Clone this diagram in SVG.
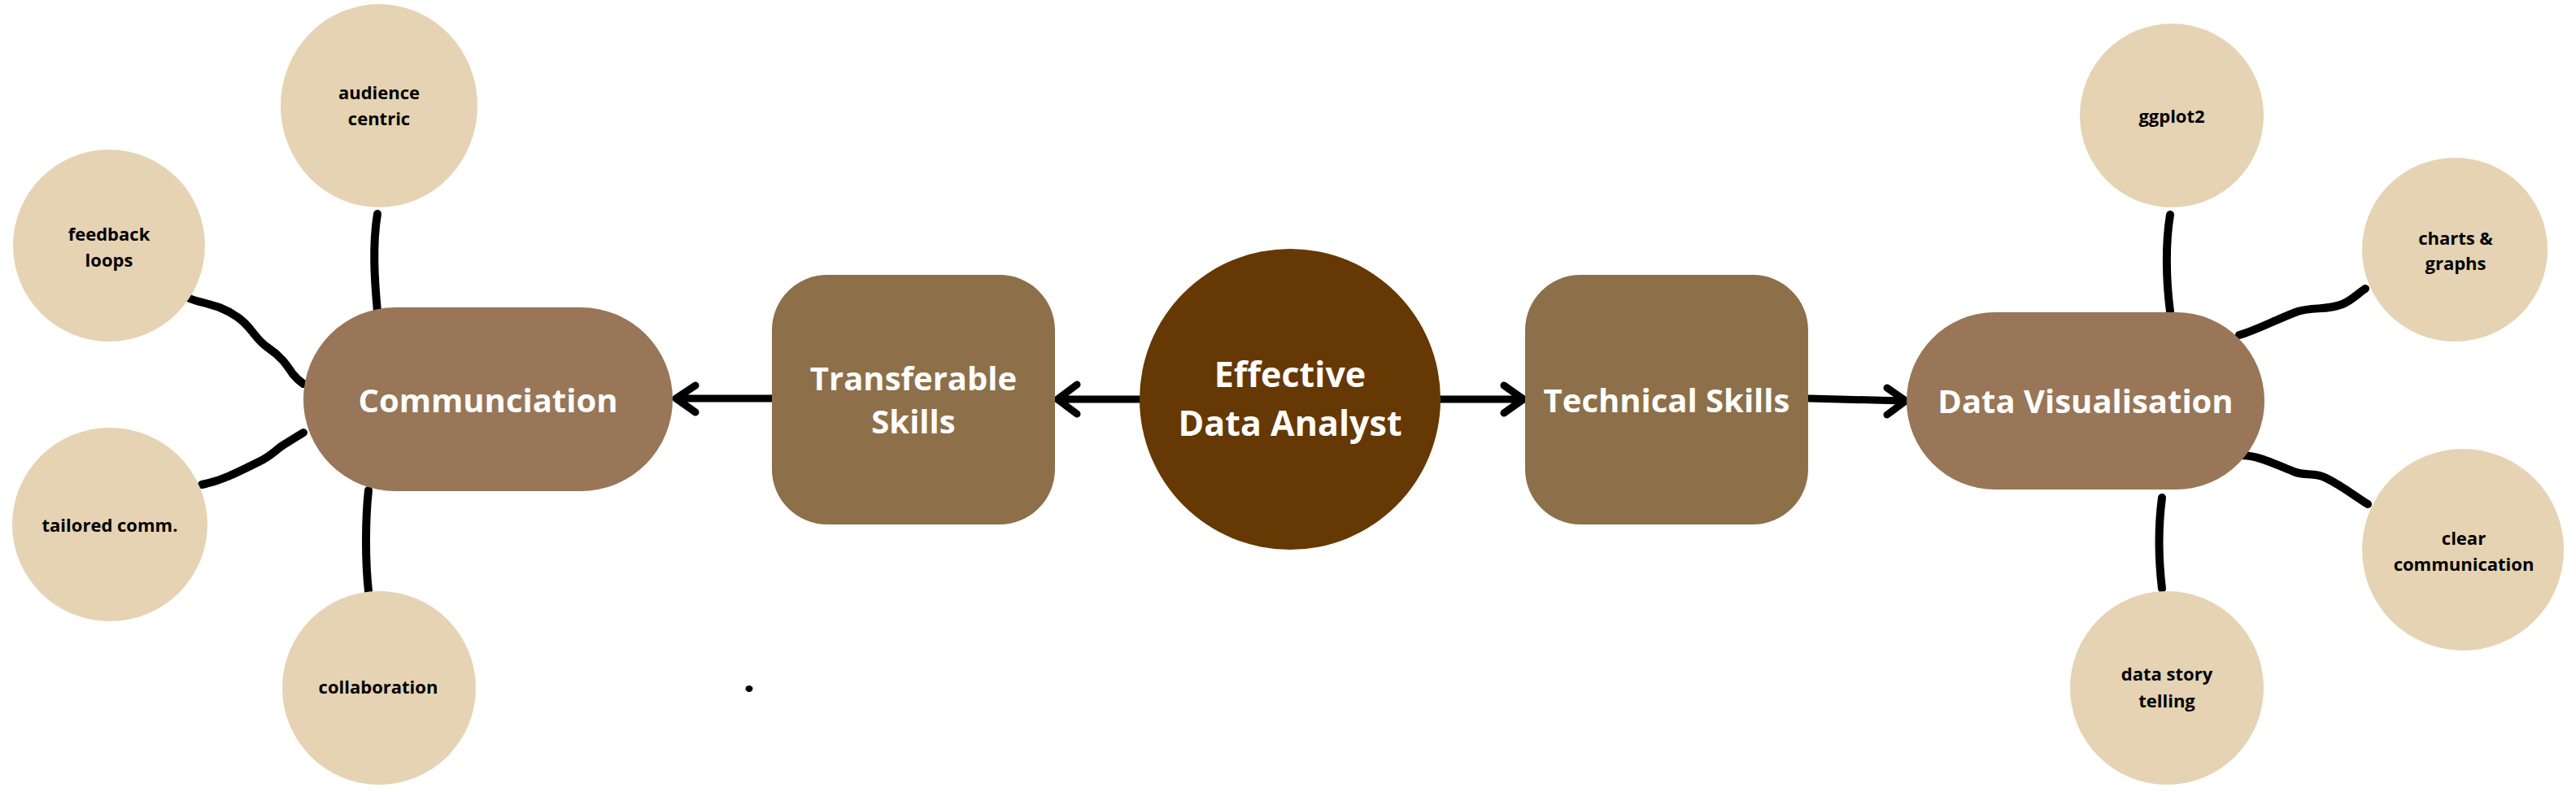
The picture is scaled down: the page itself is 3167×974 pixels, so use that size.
<svg xmlns="http://www.w3.org/2000/svg" width="3167" height="974" viewBox="0 0 3167 974">
<style>
.leaf{fill:#E5D3B3}
.pill{fill:#987657}
.box{fill:#8D7049}
.core{fill:#663804}
.lbl{font-family:"Open Sans","Liberation Sans",sans-serif;font-weight:700;font-size:22px;fill:#000;text-anchor:middle}
.big{font-family:"Open Sans","Liberation Sans",sans-serif;font-weight:700;font-size:40px;fill:#fff;text-anchor:middle}
.ln{fill:none;stroke:#000;stroke-width:10;stroke-linecap:round;stroke-linejoin:round}
.ar{fill:none;stroke:#000;stroke-width:9;stroke-linecap:round;stroke-linejoin:round}
</style>
<rect width="3167" height="974" fill="#fff"/>
<g id="connectors">
<path class="ln" d="M464,263 C458,300 460,340 464,383"/>
<path class="ln" d="M453,603 C449,640 449,690 453,727"/>
<path class="ln" d="M233,367 C250,374 270,374 292,390 C310,402 312,416 330,428 C345,438 352,448 360,460 C365,466 370,470 373,472"/>
<path class="ln" d="M248,596 C270,592 290,582 318,568 C335,560 342,550 352,545 C360,540 368,535 373,532"/>
<path class="ln" d="M2668,264 C2662,300 2663,345 2668,383"/>
<path class="ln" d="M2658,612 C2653,650 2654,690 2658,724"/>
<path class="ln" d="M2753,412 C2775,406 2800,392 2825,383 C2845,377 2860,382 2880,374 C2892,369 2900,360 2908,355"/>
<path class="ln" d="M2756,560 C2775,560 2795,570 2820,580 C2835,586 2845,580 2860,588 C2880,598 2895,610 2911,620"/>
<path class="ar" d="M949,490 L833,490 M855,474 L831,490 L855,507"/>
<path class="ar" d="M1400,491 L1303,491 M1324,473 L1300,491 L1324,509"/>
<path class="ar" d="M1771,491 L1870,491 M1849,474 L1873,491 L1849,508"/>
<path class="ar" d="M2224,490 L2340,493 M2320,477 L2343,493 L2320,510"/>
</g>
<g id="n-center"><circle class="core" cx="1586" cy="491" r="185"/><text class="big" style="font-size:43px" x="1586" y="476">Effective</text><text class="big" style="font-size:43px" x="1586" y="536">Data Analyst</text></g>
<g id="n-transferable"><rect class="box" x="949" y="338" width="348" height="307" rx="68"/><text class="big" x="1123" y="480">Transferable</text><text class="big" x="1123" y="533">Skills</text></g>
<g id="n-technical"><rect class="box" x="1875" y="338" width="348" height="307" rx="68"/><text class="big" x="2049" y="507">Technical Skills</text></g>
<g id="n-comm"><rect class="pill" x="373" y="378" width="454" height="226" rx="113"/><text class="big" x="600" y="507">Communciation</text></g>
<g id="n-dataviz"><rect class="pill" x="2344" y="384" width="440" height="218" rx="109"/><text class="big" x="2564" y="508">Data Visualisation</text></g>
<g id="n-audience"><ellipse class="leaf" cx="466" cy="130" rx="121" ry="125"/><text class="lbl" x="466" y="122">audience</text><text class="lbl" x="466" y="154">centric</text></g>
<g id="n-feedback"><ellipse class="leaf" cx="134" cy="302" rx="118" ry="118"/><text class="lbl" x="134" y="296">feedback</text><text class="lbl" x="134" y="328">loops</text></g>
<g id="n-tailored"><ellipse class="leaf" cx="135" cy="645" rx="120" ry="119"/><text class="lbl" x="135" y="654">tailored comm.</text></g>
<g id="n-collab"><ellipse class="leaf" cx="466" cy="846" rx="119" ry="119"/><text class="lbl" x="465" y="853">collaboration</text></g>
<g id="n-ggplot"><ellipse class="leaf" cx="2670" cy="142" rx="113" ry="113"/><text class="lbl" x="2670" y="151">ggplot2</text></g>
<g id="n-charts"><ellipse class="leaf" cx="3018" cy="307" rx="114" ry="113"/><text class="lbl" x="3019" y="301">charts &amp;</text><text class="lbl" x="3019" y="332">graphs</text></g>
<g id="n-clear"><ellipse class="leaf" cx="3028" cy="676" rx="124" ry="124"/><text class="lbl" x="3029" y="670">clear</text><text class="lbl" x="3029" y="702">communication</text></g>
<g id="n-story"><ellipse class="leaf" cx="2664" cy="846" rx="119" ry="119"/><text class="lbl" x="2664" y="837">data story</text><text class="lbl" x="2664" y="870">telling</text></g>
<ellipse cx="921" cy="847" rx="4.5" ry="4" fill="#000"/>
</svg>
